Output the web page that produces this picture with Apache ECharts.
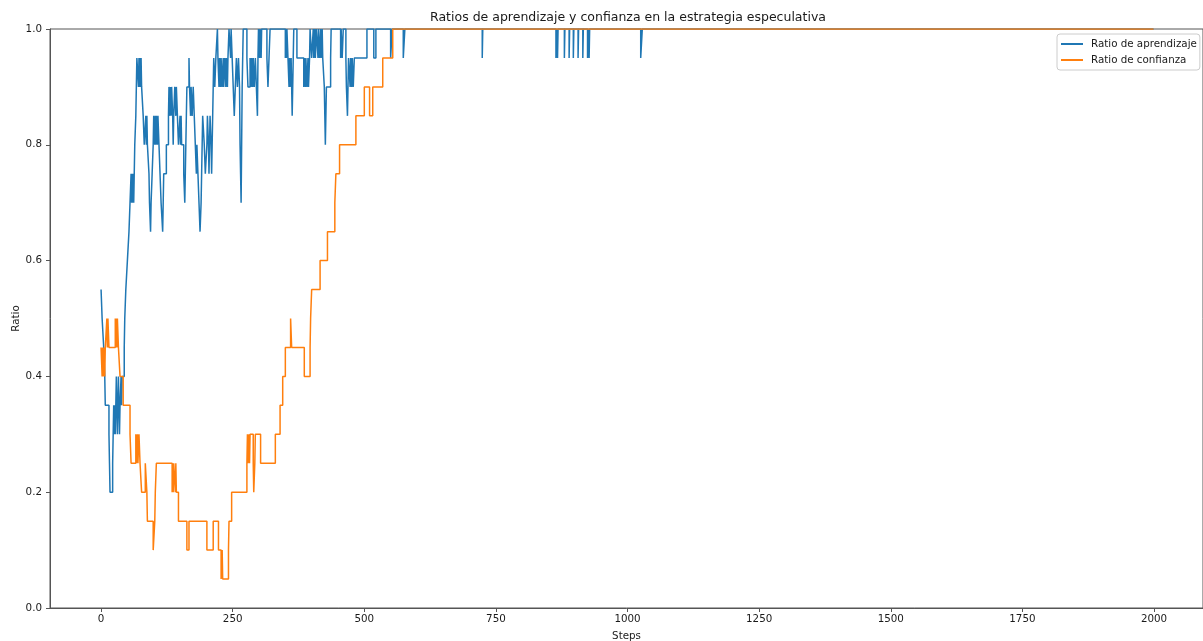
<!DOCTYPE html>
<html>
<head>
<meta charset="utf-8">
<script src="https://cdn.jsdelivr.net/npm/echarts@6/dist/echarts.min.js"></script>
<style>
  html, body { margin: 0; padding: 0; background: #ffffff; }
  #chart { width: 1203px; height: 641px; }
</style>
</head>
<body>
<div id="chart"></div>
<script>
const TITLE = 'Ratios de aprendizaje y confianza en la estrategia especulativa';
const SERIES_NAMES = ['Ratio de aprendizaje', 'Ratio de confianza'];
const X_NAME = 'Steps';
const Y_NAME = 'Ratio';
const X_TICKS = [0, 250, 500, 750, 1000, 1250, 1500, 1750, 2000];
const Y_TICKS = [0, 0.2, 0.4, 0.6, 0.8, 1.0];

// [step, ratio]: the ratio takes this value at this step and keeps it until the next entry
const learningRatio = [
  [0,0.55],[2,0.5],[5,0.45],[7,0.4],[8,0.35],[15,0.3],[16,0.25],[17,0.2],[22,0.25],[23,0.3],
  [24,0.35],[25,0.3],[26,0.35],[27,0.3],[28,0.35],[29,0.4],[30,0.35],[31,0.3],[32,0.35],[33,0.4],
  [34,0.35],[35,0.3],[36,0.35],[38,0.4],[39,0.35],[40,0.4],[44,0.45],[45,0.5],[47,0.55],[50,0.6],
  [53,0.65],[55,0.7],[57,0.75],[58,0.7],[59,0.75],[60,0.7],[61,0.75],[62,0.7],[63,0.75],[64,0.8],
  [66,0.85],[67,0.9],[68,0.95],[71,0.9],[72,0.95],[73,0.9],[74,0.95],[75,0.9],[76,0.95],[77,0.9],
  [80,0.85],[82,0.8],[85,0.85],[86,0.8],[87,0.85],[88,0.8],[91,0.75],[92,0.7],[94,0.65],[95,0.7],
  [97,0.75],[99,0.8],[100,0.85],[102,0.8],[103,0.85],[104,0.8],[105,0.85],[107,0.8],[108,0.85],[110,0.8],
  [112,0.75],[114,0.7],[117,0.65],[118,0.7],[119,0.75],[124,0.8],[128,0.85],[129,0.9],[131,0.85],[132,0.9],
  [133,0.85],[134,0.9],[136,0.85],[137,0.8],[138,0.85],[140,0.9],[142,0.85],[143,0.9],[145,0.85],[147,0.8],
  [150,0.85],[151,0.8],[152,0.85],[153,0.8],[157,0.75],[159,0.7],[160,0.75],[161,0.8],[162,0.85],[163,0.9],
  [167,0.95],[168,0.9],[170,0.85],[171,0.9],[173,0.85],[175,0.9],[177,0.85],[179,0.8],[181,0.75],[182,0.8],
  [184,0.75],[186,0.7],[188,0.65],[190,0.7],[191,0.75],[192,0.8],[193,0.85],[196,0.8],[198,0.75],[201,0.8],
  [202,0.85],[204,0.8],[205,0.75],[206,0.8],[207,0.85],[209,0.8],[210,0.75],[211,0.8],[212,0.85],[213,0.9],
  [214,0.95],[216,0.9],[218,0.95],[221,1.0],[222,0.95],[224,0.9],[225,0.95],[227,0.9],[228,0.95],[230,0.9],
  [232,0.95],[233,0.9],[235,0.95],[237,0.9],[238,0.95],[240,0.9],[241,0.95],[243,1.0],[246,0.95],[247,1.0],
  [249,0.95],[251,0.9],[253,0.85],[255,0.9],[257,0.95],[259,0.9],[261,0.95],[263,0.9],[264,0.8],[265,0.75],
  [266,0.7],[267,0.8],[268,0.9],[269,0.95],[270,1.0],[277,0.95],[279,0.9],[283,0.95],[285,0.9],[286,0.95],
  [288,0.9],[289,0.95],[291,0.9],[293,0.95],[295,0.9],[297,0.85],[298,0.95],[299,1.0],[301,0.95],[302,1.0],
  [304,0.95],[305,1.0],[315,0.95],[317,0.9],[319,0.95],[321,1.0],[350,0.95],[351,1.0],[352,0.95],[353,1.0],
  [355,0.95],[357,0.9],[358,0.95],[359,0.9],[361,0.95],[362,0.9],[363,0.85],[364,0.9],[365,0.95],[366,1.0],
  [372,0.95],[385,0.9],[386,0.95],[388,0.9],[389,0.95],[391,0.9],[393,0.95],[394,0.9],[396,0.95],[397,1.0],
  [400,0.95],[403,1.0],[404,0.95],[406,1.0],[407,0.95],[409,1.0],[412,0.95],[413,1.0],[415,0.95],[417,1.0],
  [418,0.95],[420,1.0],[421,0.95],[424,0.9],[425,0.85],[426,0.8],[427,0.85],[428,0.9],[436,0.95],[437,1.0],
  [455,0.95],[456,1.0],[458,0.95],[460,1.0],[465,0.95],[466,0.9],[468,0.85],[469,0.9],[470,0.95],[473,0.9],
  [474,0.95],[476,0.9],[477,0.95],[479,0.9],[481,0.95],[505,1.0],[518,0.95],[522,1.0],[550,0.95],[553,1.0],
  [574,0.95],[577,1.0],[724,0.95],[725,1.0],[864,0.95],[865,1.0],[867,0.95],[868,1.0],[880,0.95],[881,1.0],
  [889,0.95],[890,1.0],[897,0.95],[898,1.0],[906,0.95],[907,1.0],[915,0.95],[916,1.0],[924,0.95],[925,1.0],
  [927,0.95],[928,1.0],[1025,0.95],[1028,1.0],[1999,1.0]
];

const confidenceRatio = [
  [0,0.45],[2,0.4],[3,0.45],[4,0.4],[6,0.45],[7,0.4],[8,0.45],[11,0.5],[12,0.45],[13,0.5],
  [15,0.45],[27,0.5],[28,0.45],[29,0.5],[30,0.45],[31,0.5],[33,0.45],[36,0.4],[42,0.35],[55,0.3],
  [57,0.25],[66,0.3],[67,0.25],[69,0.3],[70,0.25],[72,0.3],[74,0.25],[77,0.2],[84,0.25],[87,0.2],
  [88,0.15],[99,0.1],[102,0.15],[103,0.2],[105,0.25],[135,0.2],[136,0.25],[137,0.2],[138,0.25],[141,0.2],
  [142,0.25],[143,0.2],[147,0.15],[163,0.1],[167,0.15],[201,0.1],[213,0.15],[223,0.1],[228,0.05],[230,0.1],
  [231,0.05],[242,0.1],[243,0.15],[248,0.2],[277,0.25],[278,0.3],[279,0.25],[281,0.3],[282,0.25],[283,0.3],
  [289,0.25],[290,0.2],[292,0.25],[293,0.3],[303,0.25],[331,0.3],[340,0.35],[345,0.4],[350,0.45],[360,0.5],
  [362,0.45],[386,0.4],[397,0.45],[398,0.5],[400,0.55],[416,0.6],[430,0.65],[444,0.7],[446,0.75],[453,0.8],
  [484,0.85],[500,0.9],[510,0.85],[516,0.9],[535,0.95],[554,1.0],[1999,1.0]
];

const FONT = 'DejaVu Sans';
const TEXT_COLOR = '#1a1a1a';
const SPINE_COLOR = '#555555';

const chart = echarts.init(document.getElementById('chart'), null, { renderer: 'canvas' });

chart.setOption({
  animation: false,
  backgroundColor: '#ffffff',
  textStyle: { fontFamily: FONT },
  title: {
    text: TITLE,
    left: 628,
    textAlign: 'center',
    top: 11,
    padding: 0,
    textStyle: { fontFamily: FONT, fontSize: 12.5, fontWeight: 'normal', color: TEXT_COLOR }
  },
  legend: {
    orient: 'vertical',
    left: 1057,
    top: 34,
    padding: [4, 3, 4, 4],
    itemGap: 4,
    itemWidth: 22,
    itemHeight: 2,
    icon: 'rect',
    backgroundColor: 'rgba(255,255,255,0.8)',
    borderColor: '#cccccc',
    borderWidth: 1,
    borderRadius: 3,
    textStyle: { fontFamily: FONT, fontSize: 10.3, color: TEXT_COLOR, lineHeight: 12, padding: [0, 0, 0, 3] },
    data: SERIES_NAMES
  },
  grid: {
    left: 50,
    right: 0,
    top: 29,
    bottom: 33,
    show: true,
    borderColor: SPINE_COLOR,
    borderWidth: 1,
    backgroundColor: 'transparent',
    outerBoundsMode: 'none'
  },
  xAxis: {
    type: 'value',
    min: -97,
    max: 2093,
    name: X_NAME,
    nameLocation: 'middle',
    nameGap: 23,
    nameTextStyle: { fontFamily: FONT, fontSize: 10.3, color: TEXT_COLOR },
    axisLine: { show: true, onZero: false, lineStyle: { color: SPINE_COLOR, width: 1 } },
    axisTick: { show: true, length: 4, customValues: X_TICKS, lineStyle: { color: SPINE_COLOR } },
    axisLabel: {
      customValues: X_TICKS, fontFamily: FONT, fontSize: 10.3, color: TEXT_COLOR, margin: 6,
      formatter: v => String(v)
    },
    splitLine: { show: false }
  },
  yAxis: {
    type: 'value',
    min: 0,
    max: 1,
    interval: 0.2,
    name: Y_NAME,
    nameLocation: 'middle',
    nameGap: 29,
    nameMoveOverlap: false,
    nameTextStyle: { fontFamily: FONT, fontSize: 10.3, color: TEXT_COLOR },
    axisLine: { show: true, onZero: false, lineStyle: { color: SPINE_COLOR, width: 1 } },
    axisTick: { show: true, length: 4, customValues: Y_TICKS, lineStyle: { color: SPINE_COLOR } },
    axisLabel: {
      fontFamily: FONT, fontSize: 10.3, color: TEXT_COLOR, margin: 8,
      customValues: Y_TICKS,
      formatter: v => v.toFixed(1)
    },
    splitLine: { show: false }
  },
  series: [
    {
      name: SERIES_NAMES[0],
      type: 'line',
      step: 'end',
      data: learningRatio,
      showSymbol: false,
      symbol: 'none',
      lineStyle: { color: '#1f77b4', width: 1.5 },
      itemStyle: { color: '#1f77b4' },
      z: 2
    },
    {
      name: SERIES_NAMES[1],
      type: 'line',
      step: 'end',
      data: confidenceRatio,
      showSymbol: false,
      symbol: 'none',
      lineStyle: { color: '#ff7f0e', width: 1.5 },
      itemStyle: { color: '#ff7f0e' },
      z: 3
    }
  ]
});
</script>
</body>
</html>
